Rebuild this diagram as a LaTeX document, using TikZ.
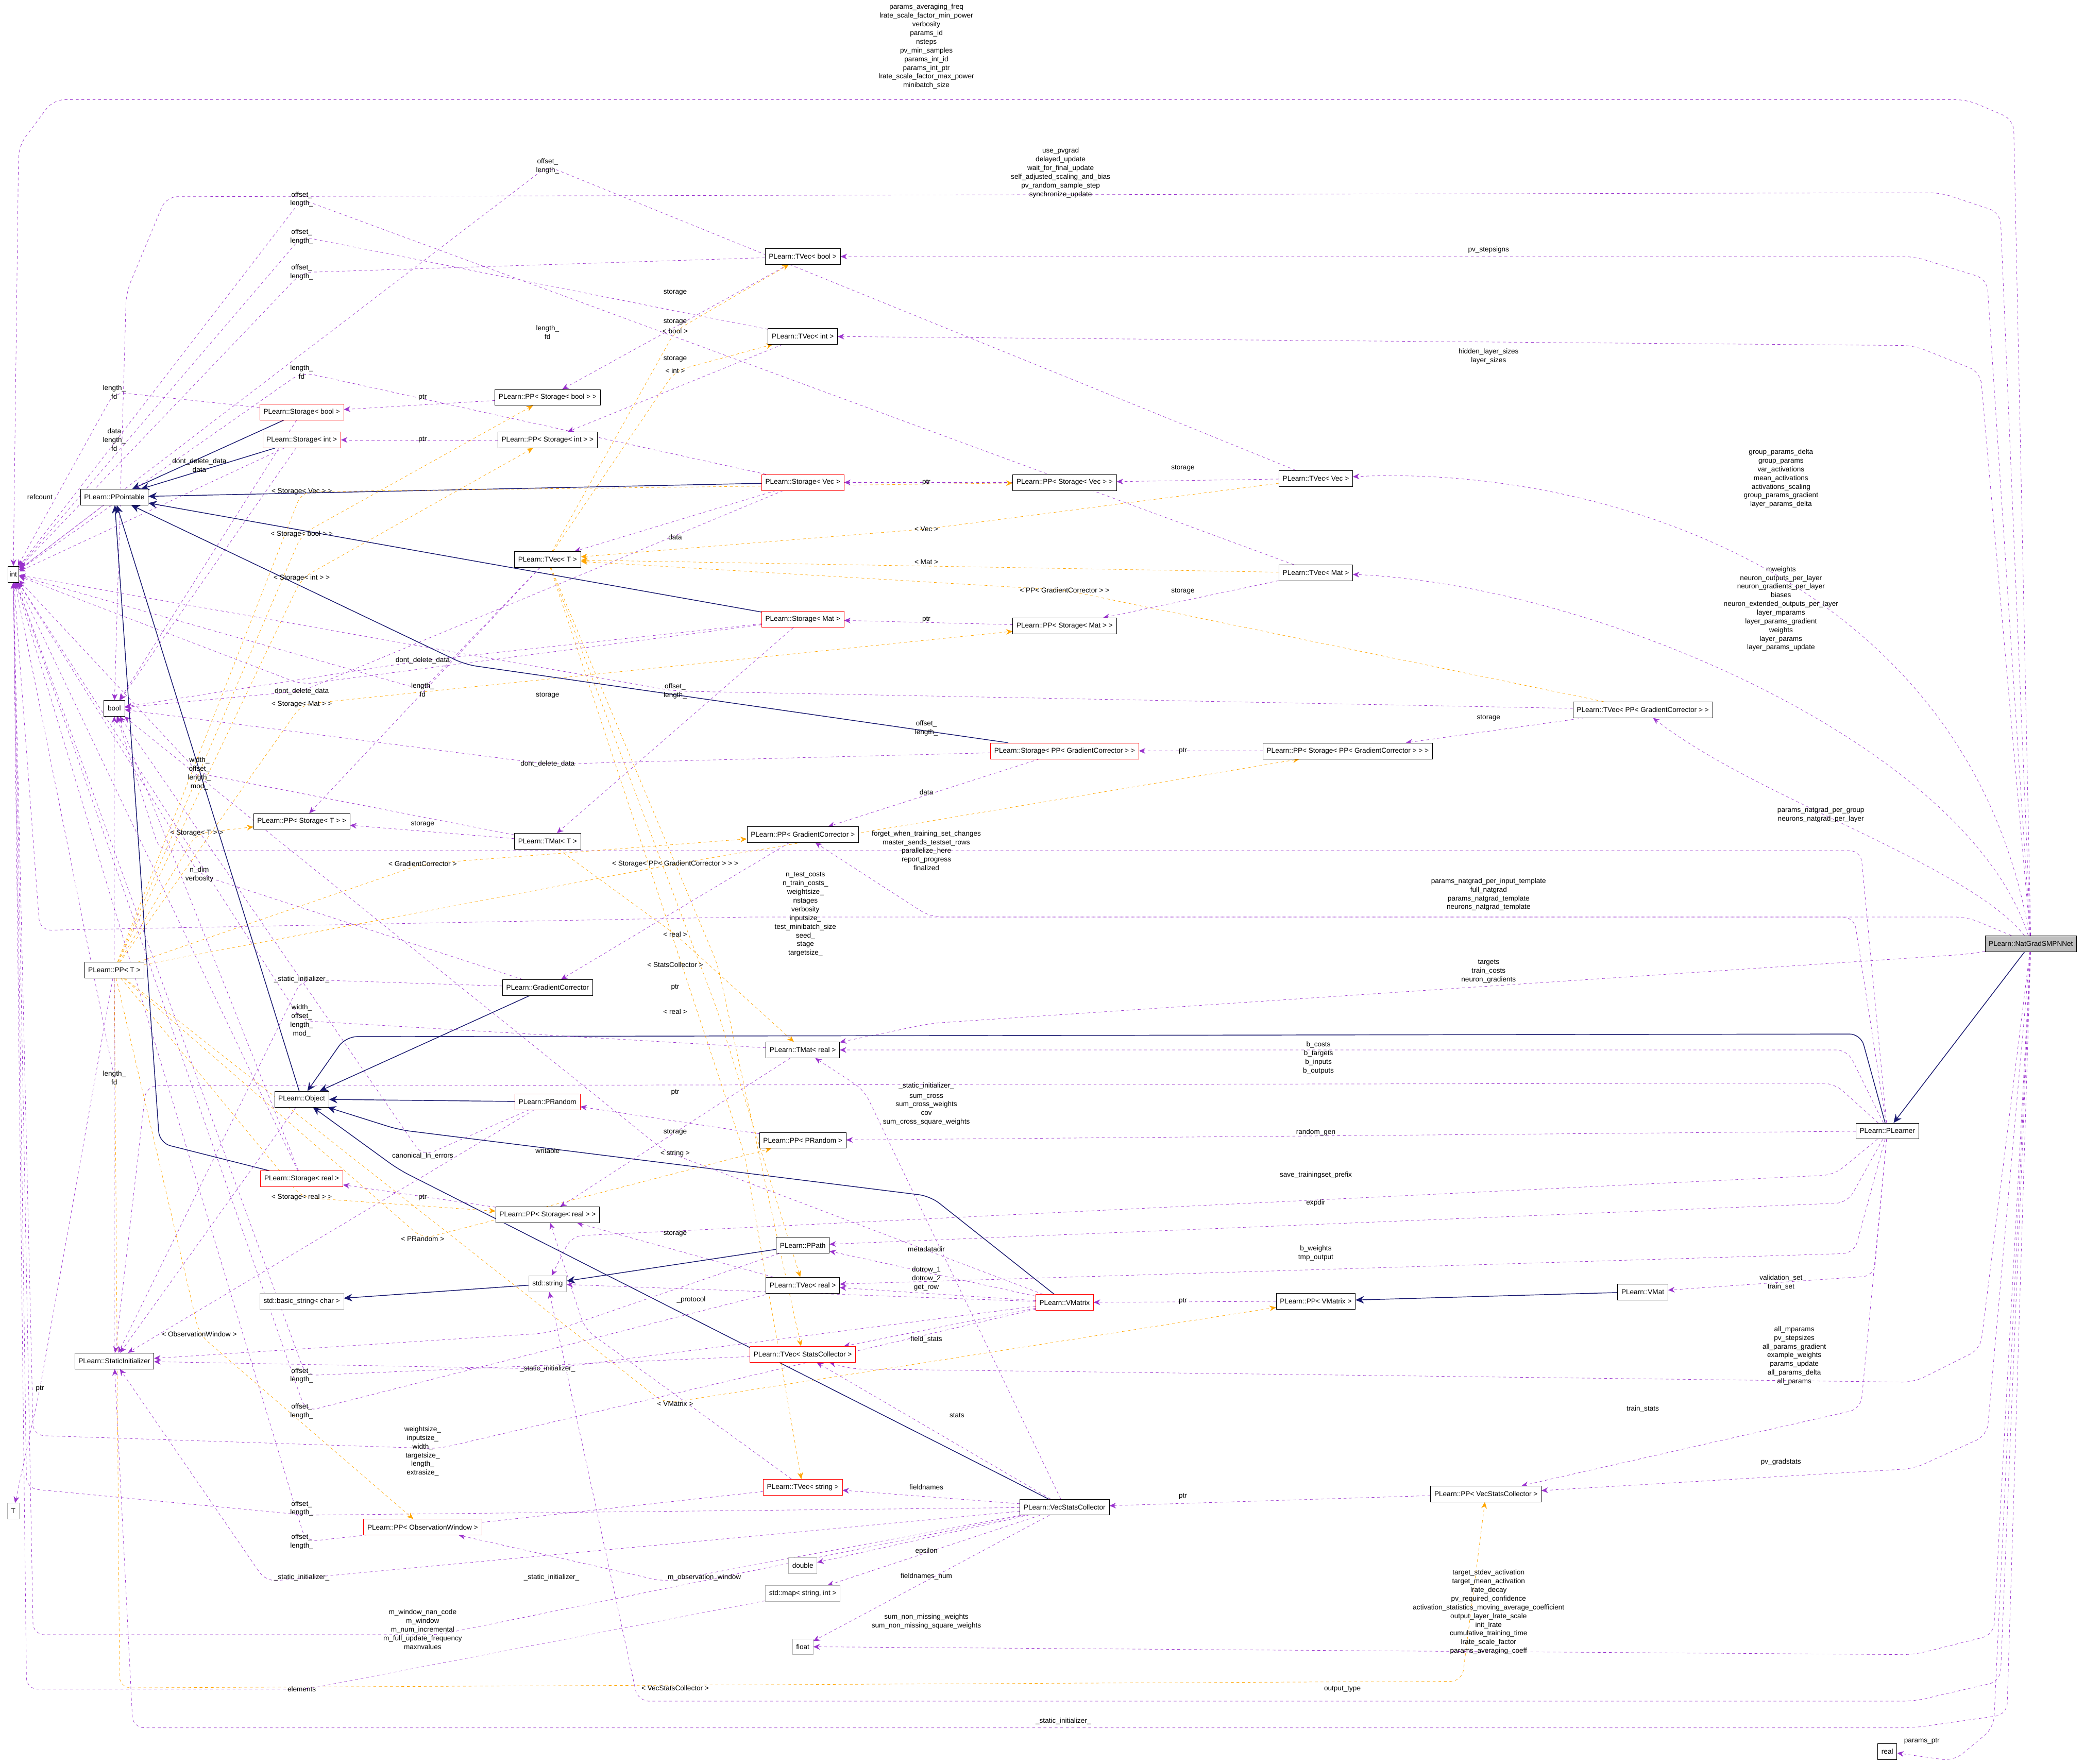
\documentclass[tikz,border=0pt]{standalone}
\usepackage{fontspec}
\setmainfont{Liberation Sans}
\usetikzlibrary{arrows.meta}
\definecolor{pur}{HTML}{9A32CD}
\definecolor{org}{HTML}{FFA500}
\definecolor{nav}{HTML}{191970}
\pgfdeclarelayer{bg}
\pgfsetlayers{bg,main}
\begin{document}
\begin{tikzpicture}[x=0.05cm,y=-0.05cm,
 bx/.style={draw=black,fill=white,font=\fontsize{7.5}{9}\selectfont,inner xsep=4pt,minimum height=17pt,inner ysep=2pt},
 rb/.style={bx,draw=red},
 gb/.style={bx,draw=gray!60},
 lb/.style={font=\fontsize{7.5}{9.3}\selectfont,align=center,inner sep=1pt},
 pe/.style={draw=pur,dashed,-{Stealth[length=7pt,width=6pt]},rounded corners=12pt},
 oe/.style={draw=org,dashed,-{Stealth[length=7pt,width=6pt]},rounded corners=12pt},
 ne/.style={draw=nav,thick,-{Stealth[length=9pt,width=8pt]},rounded corners=12pt}]
\useasboundingbox (0,0) rectangle (1568,1327);
% nodes
\node[bx,inner xsep=2pt] (int) at (10,432) {int};
\node[bx] (bool) at (86,533) {bool};
\node[bx] (ppt) at (86,374) {PLearn::PPointable};
\node[rb] (sbool) at (227,310) {PLearn::Storage< bool >};
\node[rb] (sint) at (227,331) {PLearn::Storage< int >};
\node[bx] (ppsb) at (412,299) {PLearn::PP< Storage< bool > >};
\node[bx] (ppsi) at (412,331) {PLearn::PP< Storage< int > >};
\node[bx] (tvb) at (604,193) {PLearn::TVec< bool >};
\node[bx] (tvi) at (604,253) {PLearn::TVec< int >};
\node[rb] (svec) at (604,363) {PLearn::Storage< Vec >};
\node[bx] (ppsv) at (801,363) {PLearn::PP< Storage< Vec > >};
\node[bx] (tvv) at (990,360) {PLearn::TVec< Vec >};
\node[bx] (tvt) at (412,421) {PLearn::TVec< T >};
\node[bx] (tvm) at (990,431) {PLearn::TVec< Mat >};
\node[rb] (smat) at (604,466) {PLearn::Storage< Mat >};
\node[bx] (ppsm) at (801,471) {PLearn::PP< Storage< Mat > >};
\node[bx] (tvgc) at (1236,534) {PLearn::TVec< PP< GradientCorrector > >};
\node[rb] (sgc) at (801,565) {PLearn::Storage< PP< GradientCorrector > >};
\node[bx] (ppsgc) at (1014,565) {PLearn::PP< Storage< PP< GradientCorrector > > >};
\node[bx] (ppgc) at (604,628) {PLearn::PP< GradientCorrector >};
\node[bx] (ppst) at (227,618) {PLearn::PP< Storage< T > >};
\node[bx] (tmt) at (412,633) {PLearn::TMat< T >};
\node[bx] (ppT) at (86,730) {PLearn::PP< T >};
\node[bx] (gc) at (412,743) {PLearn::GradientCorrector};
\node[bx] (tmr) at (604,790) {PLearn::TMat< real >};
\node[bx] (obj) at (227,827) {PLearn::Object};
\node[rb] (prand) at (412,829) {PLearn::PRandom};
\node[bx] (pprand) at (604,858) {PLearn::PP< PRandom >};
\node[rb] (sreal) at (227,887) {PLearn::Storage< real >};
\node[bx] (ppsr) at (412,914) {PLearn::PP< Storage< real > >};
\node[bx] (ppath) at (604,937) {PLearn::PPath};
\node[gb] (str) at (412,966) {std::string};
\node[gb] (bstr) at (227,979) {std::basic\_string< char >};
\node[bx] (tvr) at (604,967) {PLearn::TVec< real >};
\node[rb] (vmx) at (801,980) {PLearn::VMatrix};
\node[bx] (ppvm) at (990,979) {PLearn::PP< VMatrix >};
\node[bx] (vmat) at (1236,972) {PLearn::VMat};
\node[bx] (si) at (86,1024) {PLearn::StaticInitializer};
\node[rb] (tvsc) at (604,1019) {PLearn::TVec< StatsCollector >};
\node[bx] (lrn) at (1420,851) {PLearn::PLearner};
\node[bx,fill=gray!50] (ng) at (1528,710) {PLearn::NatGradSMPNNet};
\node[gb] (T) at (10,1137) {T};
\node[rb] (tvs) at (604,1119) {PLearn::TVec< string >};
\node[bx] (vsc) at (801,1134) {PLearn::VecStatsCollector};
\node[bx] (ppvsc) at (1118,1124) {PLearn::PP< VecStatsCollector >};
\node[rb] (ppow) at (318,1149) {PLearn::PP< ObservationWindow >};
\node[gb] (dbl) at (604,1178) {double};
\node[gb] (map) at (604,1199) {std::map< string, int >};
\node[gb] (flt) at (604,1239) {float};
\node[bx] (real) at (1420,1318) {real};
\begin{pgfonlayer}{bg}
% NatGrad edges
\draw[pe] (ng) -- (1515,90) -- (1480,75) -- (40,75) -- (14,110) -- (int);
\draw[pe] (ng) -- (1505,160) -- (1460,145) -- (125,148) -- (95,220) -- (bool);
\draw[pe] (ng) -- (1495,210) -- (1440,193) -- (tvb);
\draw[pe] (ng) -- (1490,280) -- (1440,260) -- (tvi);
\draw[pe] (ng) .. controls (1480,430) and (1200,350) .. (tvv);
\draw[pe] (ng) .. controls (1480,560) and (1200,440) .. (tvm);
\draw[pe] (ng) .. controls (1480,650) and (1320,600) .. (tvgc);
\draw[pe] (ng) -- (1480,690) -- (700,690) -- (ppgc);
\draw[pe] (ng) -- (1480,718) -- (700,770) -- (tmr);
\draw[ne] (ng) -- (lrn);
\draw[pe] (ng) -- (1490,1015) -- (1440,1040) -- (640,1030) -- (tvsc);
\draw[pe] (ng) -- (1495,1080) -- (1440,1105) -- (ppvsc);
\draw[pe] (ng) -- (1500,1230) -- (1440,1245) -- (flt);
\draw[pe] (ng) -- (1505,1265) -- (1440,1280) -- (480,1280) -- (str);
\draw[pe] (ng) -- (1510,1290) -- (1440,1300) -- (100,1300) -- (si);
\draw[pe] (ng) -- (1500,1300) -- (1470,1325) -- (real);
% PLearner edges
\draw[ne] (lrn) -- (1400,778) -- (260,780) -- (obj);
\draw[pe] (lrn) -- (1390,790) -- (tmr);
\draw[pe] (lrn) -- (1380,815) -- (110,817) -- (si);
\draw[pe] (lrn) -- (pprand);
\draw[pe] (lrn) -- (1380,884) -- (430,930) -- (str);
\draw[pe] (lrn) -- (1390,905) -- (ppath);
\draw[pe] (lrn) -- (1395,943) -- (tvr);
\draw[pe] (lrn) -- (1410,960) -- (vmat);
\draw[pe] (lrn) -- (1400,1060) -- (ppvsc);
\draw[pe] (lrn) -- (1400,640) -- (120,640) -- (bool);
\draw[pe] (lrn) -- (1395,690) -- (560,690) -- (30,700) -- (int);
% VecStatsCollector
\draw[ne] (vsc) -- (300,880) -- (obj);
\draw[pe] (vsc) -- (650,820) -- (tmr);
\draw[pe] (vsc) -- (tvs);
\draw[pe] (vsc) -- (dbl);
\draw[pe] (vsc) -- (map);
\draw[pe] (vsc) -- (flt);
\draw[pe] (vsc) -- (500,1190) -- (ppow);
\draw[pe] (vsc) -- (tvsc);
\draw[pe] (vsc) -- (200,1190) -- (si);
\draw[pe] (vsc) -- (230,1140) -- (20,1120) -- (int);
\draw[pe] (vsc) -- (330,1230) -- (25,1230) -- (int);
\draw[pe] (ppvsc) -- (vsc);
\draw[oe] (ppT) -- (90,1270) -- (1100,1265) -- (ppvsc);
% VMatrix
\draw[ne] (vmx) -- (700,900) -- (300,850) -- (obj);
\draw[pe] (vmx) -- (ppath);
\draw[pe] (vmx) -- (tvr);
\draw[pe] (vmx) -- (tvsc);
\draw[pe] (vmx) -- (str);
\draw[pe] (vmx) -- (500,866) -- (bool);
\draw[pe] (vmx) -- (412,1030) -- (si);
\draw[pe] (vmx) -- (330,1090) -- (25,1080) -- (int);
\draw[pe] (ppvm) -- (vmx);
\draw[oe] (ppT) -- (500,1056) -- (ppvm);
\draw[ne] (vmat) -- (ppvm);
% TVec misc
\draw[pe] (tvsc) -- (230,1035) -- (int);
\draw[oe] (tvt) -- (540,726) -- (tvsc);
\draw[pe] (tvr) -- (ppsr);
\draw[pe] (tvr) -- (230,1062) -- (int);
\draw[oe] (tvt) -- (540,761) -- (tvr);
\draw[oe] (tvt) -- (560,868) -- (tvs);
\draw[pe] (tvs) -- (230,1160) -- (int);
\draw[pe] (tvs) -- (440,1000) -- (ppsr);
\draw[pe] (map) -- (230,1271) -- (20,1271) -- (int);
\draw[ne] (ppath) -- (str);
\draw[ne] (str) -- (bstr);
\draw[pe] (ppath) -- (412,1003) -- (si);
\draw[pe] (pprand) -- (prand);
\draw[oe] (ppT) -- (318,932) -- (pprand);
\draw[ne] (prand) -- (obj);
\draw[pe] (prand) -- (si);
\draw[pe] (prand) -- (318,870) -- (bool);
\draw[pe] (ppsr) -- (sreal);
\draw[oe] (ppT) -- (227,901) -- (ppsr);
\draw[ne] (sreal) -- (120,860) -- (ppt);
\draw[pe] (sreal) -- (bool);
\draw[pe] (sreal) -- (int);
\draw[ne] (gc) -- (obj);
\draw[pe] (gc) -- (150,658) -- (int);
\draw[pe] (gc) -- (227,737) -- (si);
\draw[pe] (ppgc) -- (gc);
\draw[oe] (ppT) -- (318,650) -- (ppgc);
\draw[pe] (tmr) -- (227,768) -- (int);
\draw[pe] (tmr) -- (508,852) -- (ppsr);
\draw[oe] (tmt) -- (508,703) -- (tmr);
\draw[pe] (tmt) -- (ppst);
\draw[pe] (tmt) -- (150,582) -- (int);
\draw[oe] (ppT) -- (148,627) -- (ppst);
\draw[pe] (tvt) -- (ppst);
\draw[pe] (tvt) -- (318,519) -- (int);
\draw[pe] (ppT) -- (86,811) -- (int);
\draw[pe] (ppT) -- (30,1045) -- (T);
\draw[oe] (ppT) -- (150,1004) -- (ppow);
\draw[ne] (obj) -- (ppt);
\draw[pe] (obj) -- (si);
\draw[pe] (ppt) -- (int);
\draw[pe] (si) -- (bool);
\draw[ne] (sbool) -- (ppt);
\draw[pe] (sbool) -- (86,295) -- (int);
\draw[pe] (sbool) -- (bool);
\draw[ne] (sint) -- (ppt);
\draw[pe] (sint) -- (int);
\draw[pe] (sint) -- (bool);
\draw[pe] (ppsb) -- (sbool);
\draw[oe] (ppT) -- (227,402) -- (ppsb);
\draw[pe] (ppsi) -- (sint);
\draw[oe] (ppT) -- (227,435) -- (ppsi);
\draw[pe] (tvb) -- (ppsb);
\draw[pe] (tvb) -- (227,205) -- (int);
\draw[oe] (tvt) -- (508,249) -- (tvb);
\draw[pe] (tvi) -- (ppsi);
\draw[pe] (tvi) -- (227,178) -- (int);
\draw[oe] (tvt) -- (508,279) -- (tvi);
\draw[ne] (svec) -- (ppt);
\draw[pe] (svec) -- (227,280) -- (int);
\draw[pe] (svec) -- (227,520) -- (bool);
\draw[pe] (svec) -- (tvt);
\draw[pe] (ppsv) -- (svec);
\draw[oe] (ppT) -- (227,370) -- (ppsv);
\draw[pe] (tvv) -- (ppsv);
\draw[pe] (tvv) -- (412,125) -- (int);
\draw[oe] (tvv) -- (697,398) -- (tvt);
\draw[pe] (tvm) -- (ppsm);
\draw[pe] (tvm) -- (227,150) -- (int);
\draw[oe] (tvm) -- (tvt);
\draw[ne] (smat) -- (ppt);
\draw[pe] (smat) -- (227,515) -- (int);
\draw[pe] (smat) -- (318,497) -- (bool);
\draw[pe] (smat) -- (tmt);
\draw[pe] (ppsm) -- (smat);
\draw[oe] (ppT) -- (227,530) -- (ppsm);
\draw[pe] (tvgc) -- (ppsgc);
\draw[pe] (tvgc) -- (508,520) -- (int);
\draw[oe] (tvgc) -- (801,444) -- (tvt);
\draw[ne] (sgc) -- (350,500) -- (ppt);
\draw[pe] (sgc) -- (412,575) -- (bool);
\draw[pe] (sgc) -- (ppgc);
\draw[pe] (ppsgc) -- (sgc);
\draw[oe] (ppT) -- (508,650) -- (ppsgc);
\end{pgfonlayer}
% labels
\node[lb] (l1) at (697,35) {params\_averaging\_freq\\lrate\_scale\_factor\_min\_power\\verbosity\\params\_id\\nsteps\\pv\_min\_samples\\params\_int\_id\\params\_int\_ptr\\lrate\_scale\_factor\_max\_power\\minibatch\_size};
\node[lb] (l2) at (798,130) {use\_pvgrad\\delayed\_update\\wait\_for\_final\_update\\self\_adjusted\_scaling\_and\_bias\\pv\_random\_sample\_step\\synchronize\_update};
\node[lb] (l3) at (1120,188) {pv\_stepsigns};
\node[lb] (l4) at (1120,268) {hidden\_layer\_sizes\\layer\_sizes};
\node[lb] (l5) at (1340,360) {group\_params\_delta\\group\_params\\var\_activations\\mean\_activations\\activations\_scaling\\group\_params\_gradient\\layer\_params\_delta};
\node[lb] (l6) at (1340,458) {mweights\\neuron\_outputs\_per\_layer\\neuron\_gradients\_per\_layer\\biases\\neuron\_extended\_outputs\_per\_layer\\layer\_mparams\\layer\_params\_gradient\\weights\\layer\_params\\layer\_params\_update};
\node[lb] (l7) at (1370,613) {params\_natgrad\_per\_group\\neurons\_natgrad\_per\_layer};
\node[lb] (l8) at (1120,673) {params\_natgrad\_per\_input\_template\\full\_natgrad\\params\_natgrad\_template\\neurons\_natgrad\_template};
\node[lb] (l9) at (1120,731) {targets\\train\_costs\\neuron\_gradients};
\node[lb] (l10) at (1350,1020) {all\_mparams\\pv\_stepsizes\\all\_params\_gradient\\example\_weights\\params\_update\\all\_params\_delta\\all\_params};
\node[lb] (l11) at (1340,1100) {pv\_gradstats};
\node[lb] (l12) at (1120,1213) {target\_stdev\_activation\\target\_mean\_activation\\lrate\_decay\\pv\_required\_confidence\\activation\_statistics\_moving\_average\_coefficient\\output\_layer\_lrate\_scale\\init\_lrate\\cumulative\_training\_time\\lrate\_scale\_factor\\params\_averaging\_coeff};
\node[lb] (l13) at (1010,1271) {output\_type};
\node[lb] (l14) at (800,1295) {\_static\_initializer\_};
\node[lb] (l15) at (1446,1310) {params\_ptr};
\node[lb] (l16) at (992,796) {b\_costs\\b\_targets\\b\_inputs\\b\_outputs};
\node[lb] (l17) at (697,817) {\_static\_initializer\_};
\node[lb] (l18) at (990,852) {random\_gen};
\node[lb] (l19) at (990,884) {save\_trainingset\_prefix};
\node[lb] (l20) at (990,905) {expdir};
\node[lb] (l21) at (990,943) {b\_weights\\tmp\_output};
\node[lb] (l22) at (1340,965) {validation\_set\\train\_set};
\node[lb] (l23) at (1236,1060) {train\_stats};
\node[lb] (l24) at (697,640) {forget\_when\_training\_set\_changes\\master\_sends\_testset\_rows\\parallelize\_here\\report\_progress\\finalized};
\node[lb] (l25) at (606,688) {n\_test\_costs\\n\_train\_costs\_\\weightsize\_\\nstages\\verbosity\\inputsize\_\\test\_minibatch\_size\\seed\_\\stage\\targetsize\_};
\node[lb] (l26) at (697,835) {sum\_cross\\sum\_cross\_weights\\cov\\sum\_cross\_square\_weights};
\node[lb] (l27) at (697,1119) {fieldnames};
\node[lb] (l28) at (697,1167) {epsilon};
\node[lb] (l29) at (697,1186) {fieldnames\_num};
\node[lb] (l30) at (697,1220) {sum\_non\_missing\_weights\\sum\_non\_missing\_square\_weights};
\node[lb] (l31) at (530,1187) {m\_observation\_window};
\node[lb] (l32) at (720,1065) {stats};
\node[lb] (l33) at (415,1187) {\_static\_initializer\_};
\node[lb] (l34) at (227,1135) {offset\_\\length\_};
\node[lb] (l35) at (318,1226) {m\_window\_nan\_code\\m\_window\\m\_num\_incremental\\m\_full\_update\_frequency\\maxnvalues};
\node[lb] (l36) at (890,1126) {ptr};
\node[lb] (l37) at (508,1270) {< VecStatsCollector >};
\node[lb] (l38) at (697,940) {metadatadir};
\node[lb] (l39) at (697,962) {dotrow\_1\\dotrow\_2\\get\_row};
\node[lb] (l40) at (697,1008) {field\_stats};
\node[lb] (l41) at (520,978) {\_protocol};
\node[lb] (l42) at (412,866) {writable};
\node[lb] (l43) at (412,1030) {\_static\_initializer\_};
\node[lb] (l44) at (318,1092) {weightsize\_\\inputsize\_\\width\_\\targetsize\_\\length\_\\extrasize\_};
\node[lb] (l45) at (890,979) {ptr};
\node[lb] (l46) at (508,1056) {< VMatrix >};
\node[lb] (l47) at (227,1035) {offset\_\\length\_};
\node[lb] (l48) at (508,928) {storage};
\node[lb] (l49) at (227,1062) {offset\_\\length\_};
\node[lb] (l50) at (508,761) {< real >};
\node[lb] (l51) at (508,726) {< StatsCollector >};
\node[lb] (l52) at (508,868) {< string >};
\node[lb] (l53) at (227,1271) {elements};
\node[lb] (l54) at (508,822) {ptr};
\node[lb] (l55) at (318,932) {< PRandom >};
\node[lb] (l56) at (318,870) {canonical\_ln\_errors};
\node[lb] (l57) at (318,901) {ptr};
\node[lb] (l58) at (227,901) {< Storage< real > >};
\node[lb] (l59) at (150,658) {n\_dim\\verbosity};
\node[lb] (l60) at (227,737) {\_static\_initializer\_};
\node[lb] (l61) at (508,743) {ptr};
\node[lb] (l62) at (318,650) {< GradientCorrector >};
\node[lb] (l63) at (227,768) {width\_\\offset\_\\length\_\\mod\_};
\node[lb] (l64) at (508,852) {storage};
\node[lb] (l65) at (508,703) {< real >};
\node[lb] (l66) at (318,620) {storage};
\node[lb] (l67) at (150,582) {width\_\\offset\_\\length\_\\mod\_};
\node[lb] (l68) at (148,627) {< Storage< T > >};
\node[lb] (l69) at (412,523) {storage};
\node[lb] (l70) at (318,519) {length\_\\fd};
\node[lb] (l71) at (86,811) {length\_\\fd};
\node[lb] (l72) at (30,1045) {ptr};
\node[lb] (l73) at (150,1004) {< ObservationWindow >};
\node[lb] (l74) at (30,374) {refcount};
\node[lb] (l75) at (86,295) {length\_\\fd};
\node[lb] (l76) at (86,331) {data\\length\_\\fd};
\node[lb] (l77) at (150,350) {dont\_delete\_data\\data};
\node[lb] (l78) at (318,299) {ptr};
\node[lb] (l79) at (318,331) {ptr};
\node[lb] (l80) at (227,402) {< Storage< bool > >};
\node[lb] (l81) at (227,435) {< Storage< int > >};
\node[lb] (l82) at (508,220) {storage};
\node[lb] (l83) at (227,205) {offset\_\\length\_};
\node[lb] (l84) at (508,249) {< bool >};
\node[lb] (l85) at (508,242) {storage};
\node[lb] (l86) at (227,178) {offset\_\\length\_};
\node[lb] (l87) at (508,279) {< int >};
\node[lb] (l88) at (227,280) {length\_\\fd};
\node[lb] (l89) at (227,520) {dont\_delete\_data};
\node[lb] (l90) at (508,404) {data};
\node[lb] (l91) at (697,363) {ptr};
\node[lb] (l92) at (227,370) {< Storage< Vec > >};
\node[lb] (l93) at (890,352) {storage};
\node[lb] (l94) at (412,125) {offset\_\\length\_};
\node[lb] (l95) at (697,398) {< Vec >};
\node[lb] (l96) at (890,445) {storage};
\node[lb] (l97) at (227,150) {offset\_\\length\_};
\node[lb] (l98) at (697,423) {< Mat >};
\node[lb] (l99) at (318,497) {dont\_delete\_data};
\node[lb] (l100) at (697,466) {ptr};
\node[lb] (l101) at (227,530) {< Storage< Mat > >};
\node[lb] (l102) at (1120,540) {storage};
\node[lb] (l103) at (508,520) {offset\_\\length\_};
\node[lb] (l104) at (801,444) {< PP< GradientCorrector > >};
\node[lb] (l105) at (412,575) {dont\_delete\_data};
\node[lb] (l106) at (697,596) {data};
\node[lb] (l107) at (890,565) {ptr};
\node[lb] (l108) at (508,650) {< Storage< PP< GradientCorrector > > >};
\node[lb] (l109) at (508,270) {storage};
\node[lb] (l110) at (412,250) {length\_\\fd};
\node[lb] (l111) at (697,548) {offset\_\\length\_};
\node[lb] (l112) at (227,1187) {\_static\_initializer\_};
\node[lb] (l113) at (227,1160) {offset\_\\length\_};
\end{tikzpicture}
\end{document}
